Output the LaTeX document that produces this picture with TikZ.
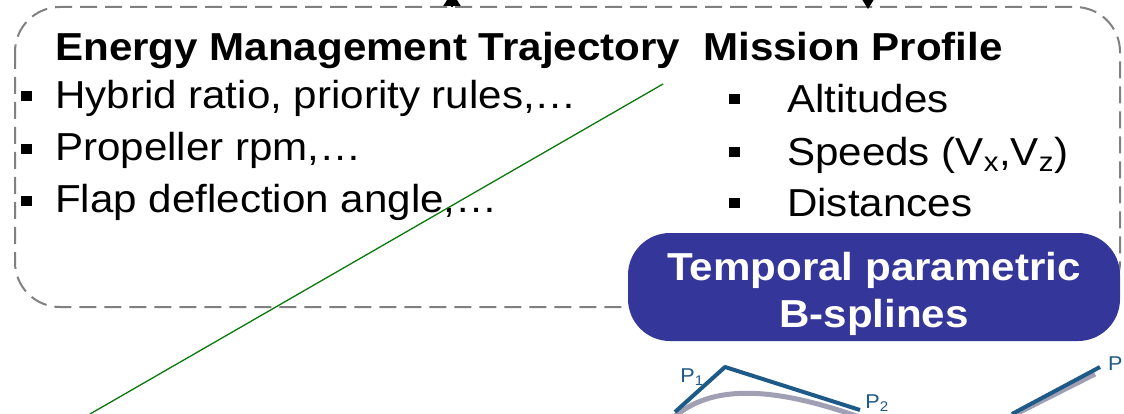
\documentclass[tikz,border=0pt]{standalone}
\usepackage{fontspec}
\setmainfont[FakeStretch=1.08]{Liberation Sans}
\usetikzlibrary{arrows.meta}
\definecolor{boxgray}{RGB}{128,128,128}
\definecolor{bsblue}{RGB}{53,54,153}
\definecolor{lgreen}{RGB}{10,120,10}
\definecolor{splblue}{RGB}{30,90,135}
\definecolor{splgray}{RGB}{160,160,180}
\tikzset{
  big/.style={font=\fontsize{39}{45}\selectfont, inner sep=0pt, anchor=base west},
  bigb/.style={font=\fontsize{39}{45}\selectfont\bfseries, inner sep=0pt, anchor=base west},
  dashbox/.style={draw=boxgray, line width=2pt, dash pattern=on 17pt off 8pt, rounded corners=45pt},
  bul/.style={fill=black, inner sep=0pt, minimum width=11pt, minimum height=10pt},
  bsbox/.style={fill=bsblue, rounded corners=42pt, inner sep=0pt, minimum width=492pt, minimum height=108pt},
  wtxt/.style={font=\fontsize{39}{45}\selectfont\bfseries, text=white, inner sep=0pt, anchor=base},
  spl/.style={draw=splblue, line width=4pt, line join=round},
  splc/.style={draw=splgray, line width=5pt},
  plab/.style={font=\fontsize{20}{22}\selectfont, text=splblue, inner sep=0pt},
  arr/.style={-{Triangle[length=14pt,width=17pt]}, line width=2pt, black}
}
\begin{document}
\begin{tikzpicture}[x=1pt,y=-1pt]
\useasboundingbox (0,0) rectangle (1124,414);
\clip (0,0) rectangle (1124,414);
% dashed box
\draw[dashbox] (15,7) rectangle (1120,307);
% arrows at top
\coordinate (upS) at (452,7);
\coordinate (upE) at (452,-8);
\coordinate (dnS) at (868,-30);
\coordinate (dnE) at (868,9);
\draw[arr] (upS) -- (upE);
\draw[arr] (dnS) -- (dnE);
% left column
\node[bigb] (emt) at (55,61) {Energy Management Trajectory};
\node[bul] (lb1) at (26,96) {};
\node[bul] (lb2) at (26,149) {};
\node[bul] (lb3) at (26,201) {};
\node[big] (l1) at (55,109) {Hybrid ratio, priority rules,…};
\node[big] (l2) at (55,161) {Propeller rpm,…};
\node[big] (l3) at (55,213) {Flap deflection angle,…};
% right column
\node[bigb] (mp) at (703,61) {Mission Profile};
\node[bul] (rb1) at (734,99) {};
\node[bul] (rb2) at (734,152) {};
\node[bul] (rb3) at (734,203) {};
\node[big] (r1) at (787,113) {Altitudes};
\node[big] (r2) at (787,166) {Speeds (V\textsubscript{x},V\textsubscript{z})};
\node[big] (r3) at (787,217) {Distances};
% blue box
\node[bsbox] (bs) at (874,287) {};
\node[wtxt] (bs1) at (874,280) {Temporal parametric};
\node[wtxt] (bs2) at (874,327) {B-splines};
% green line
\coordinate (g1) at (90,414);
\coordinate (g2) at (663,84);
\draw[lgreen, line width=1.3pt] (g1) -- (g2);
% spline sketch
\coordinate (s0) at (675,412);
\coordinate (s1) at (725,367);
\coordinate (s2) at (860,410);
\draw[splc] (673,418) .. controls (710,385) and (770,385) .. (862,418);
\draw[spl] (s0) -- (s1) -- (s2);
\node[plab] (p1) at (692,377) {P\textsubscript{1}};
\node[plab] (p2) at (877,403) {P\textsubscript{2}};
\coordinate (t0) at (1012,414);
\coordinate (t1) at (1100,367);
\draw[splc] (1008,418) -- (1095,374);
\draw[spl] (t0) -- (t1);
\node[plab, anchor=west] (p4) at (1108,364) {P};
\end{tikzpicture}
\end{document}
